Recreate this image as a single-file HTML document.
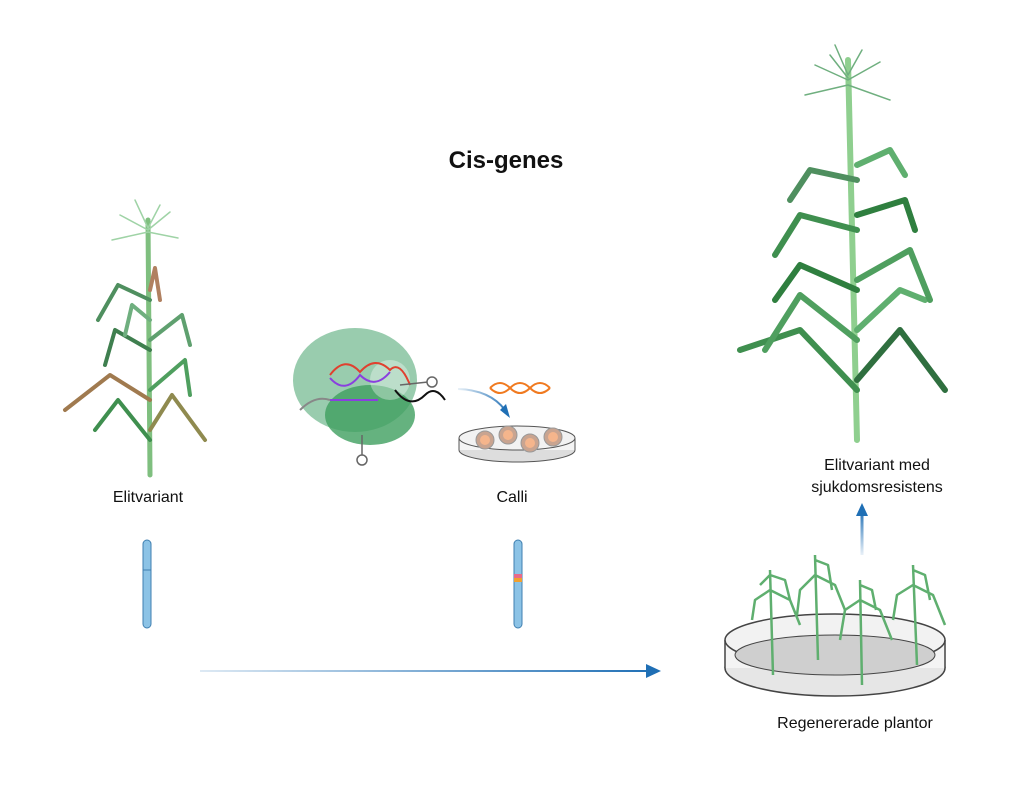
<!DOCTYPE html>
<html><head><meta charset="utf-8"><style>
html,body{margin:0;padding:0;background:#fff}
svg text{font-family:"Liberation Sans",sans-serif;fill:#111}
</style></head><body>
<svg width="1024" height="792" viewBox="0 0 1024 792" xmlns="http://www.w3.org/2000/svg">
<defs>
<linearGradient id="ag" gradientUnits="userSpaceOnUse" x1="200" y1="0" x2="655" y2="0"><stop offset="0" stop-color="#1f6fb5" stop-opacity="0.15"/><stop offset="1" stop-color="#1f6fb5"/></linearGradient>
<linearGradient id="ag3" gradientUnits="userSpaceOnUse" x1="458" y1="0" x2="510" y2="0"><stop offset="0" stop-color="#1f6fb5" stop-opacity="0.1"/><stop offset="1" stop-color="#1f6fb5"/></linearGradient>
<linearGradient id="ag2" gradientUnits="userSpaceOnUse" x1="0" y1="555" x2="0" y2="510"><stop offset="0" stop-color="#1f6fb5" stop-opacity="0.1"/><stop offset="1" stop-color="#1f6fb5"/></linearGradient>
</defs>
<text x="506" y="168" font-size="24" font-weight="bold" text-anchor="middle">Cis-genes</text>

<!-- left plant -->
<g fill="none" stroke-linecap="round">
<path d="M150 475 L148 220" stroke="#7fbf7f" stroke-width="5"/>
<g stroke="#9fd3a6" stroke-width="1.5"><path d="M148 230 L120 215 M148 230 L170 212 M148 228 L135 200 M148 228 L160 205 M148 232 L112 240 M148 232 L178 238"/></g>
<g stroke-width="4" stroke-linejoin="round">
<path d="M150 440 L118 400 L95 430" stroke="#3f8f4f"/>
<path d="M150 430 L172 395 L205 440" stroke="#8f8a4f"/>
<path d="M150 400 L110 375 L65 410" stroke="#a07a4f"/>
<path d="M150 390 L185 360 L190 395" stroke="#4f9f5f"/>
<path d="M150 350 L115 330 L105 365" stroke="#3f7f4f"/>
<path d="M150 340 L182 315 L190 345" stroke="#5fa06f"/>
<path d="M150 300 L118 285 L98 320" stroke="#4f8f5f"/>
<path d="M150 290 L155 268 L160 300" stroke="#b08060"/>
<path d="M150 320 L132 305 L125 335" stroke="#6faf7f"/>
</g></g>

<!-- right plant -->
<g fill="none" stroke-linecap="round">
<path d="M857 440 L848 60" stroke="#8fcf8f" stroke-width="6"/>
<g stroke="#6faf7f" stroke-width="1.5"><path d="M848 80 L815 65 M848 80 L880 62 M848 75 L835 45 M848 75 L862 50 M848 85 L805 95 M848 85 L890 100 M848 78 L830 55"/></g>
<g stroke-width="6" stroke-linejoin="round">
<path d="M857 390 L800 330 L740 350" stroke="#3f8f4f"/>
<path d="M857 380 L900 330 L945 390" stroke="#2f6f3f"/>
<path d="M857 340 L800 295 L765 350" stroke="#4f9f5f"/>
<path d="M857 330 L900 290 L925 300" stroke="#5faf6f"/>
<path d="M857 290 L800 265 L775 300" stroke="#2f7f3f"/>
<path d="M857 280 L910 250 L930 300" stroke="#4f9f5f"/>
<path d="M857 230 L800 215 L775 255" stroke="#3f8f4f"/>
<path d="M857 215 L905 200 L915 230" stroke="#2f7f3f"/>
<path d="M857 180 L810 170 L790 200" stroke="#4f8f5f"/>
<path d="M857 165 L890 150 L905 175" stroke="#5faf6f"/>
</g></g>

<!-- protein + DNA -->
<ellipse cx="355" cy="380" rx="62" ry="52" fill="#7fbf9a" opacity="0.8"/>
<ellipse cx="370" cy="415" rx="45" ry="30" fill="#3f9f5f" opacity="0.8"/>
<circle cx="390" cy="380" r="20" fill="#fff" opacity="0.35"/>
<path d="M330 375 Q345 355 360 372 Q375 355 390 370 Q400 360 410 385" stroke="#e0402f" stroke-width="2" fill="none"/>
<path d="M330 378 Q345 395 360 375 Q375 390 390 372" stroke="#8a3fdf" stroke-width="2" fill="none"/>
<path d="M330 400 L378 400" stroke="#8a3fdf" stroke-width="2"/>
<path d="M395 390 Q410 410 425 395 Q435 385 445 400" stroke="#111" stroke-width="2" fill="none"/>
<path d="M300 410 Q315 395 330 400" stroke="#888" stroke-width="2" fill="none"/>
<path d="M400 385 L428 382" stroke="#666" stroke-width="1.5"/><circle cx="432" cy="382" r="5" fill="#fff" stroke="#666" stroke-width="1.5"/>
<path d="M362 435 L362 455" stroke="#666" stroke-width="1.5"/><circle cx="362" cy="460" r="5" fill="#fff" stroke="#666" stroke-width="1.5"/>

<!-- arrow + dna + dish -->
<path d="M458 389 Q490 390 505 410" stroke="url(#ag3)" stroke-width="2" fill="none"/>
<path d="M500 410 L510 418 L506 404 Z" fill="#1f6fb5"/>
<path d="M490 388 Q500 378 510 388 Q520 398 530 388 Q540 378 550 388" stroke="#f07a20" stroke-width="2" fill="none"/>
<path d="M490 388 Q500 398 510 388 Q520 378 530 388 Q540 398 550 388" stroke="#f07a20" stroke-width="2" fill="none"/>
<ellipse cx="517" cy="450" rx="58" ry="12" fill="#ddd" stroke="#555"/>
<rect x="459" y="438" width="116" height="12" fill="#f4f4f4"/>
<ellipse cx="517" cy="438" rx="58" ry="12" fill="#f2f2f2" stroke="#555"/>
<path d="M459 438 V450 M575 438 V450" stroke="#555"/>
<g fill="#c9a490" stroke="#999"><circle cx="485" cy="440" r="9"/><circle cx="508" cy="435" r="9"/><circle cx="530" cy="443" r="9"/><circle cx="553" cy="437" r="9"/></g>
<g fill="#f5b58c"><circle cx="485" cy="440" r="5"/><circle cx="508" cy="435" r="5"/><circle cx="530" cy="443" r="5"/><circle cx="553" cy="437" r="5"/></g>

<text x="148" y="502" font-size="16" text-anchor="middle">Elitvariant</text>
<text x="512" y="502" font-size="16" text-anchor="middle">Calli</text>
<text x="877" y="470" font-size="16" text-anchor="middle">Elitvariant med</text>
<text x="877" y="492" font-size="16" text-anchor="middle">sjukdomsresistens</text>
<text x="855" y="728" font-size="16" text-anchor="middle">Regenererade plantor</text>

<!-- chromosomes -->
<rect x="143" y="540" width="8" height="88" rx="4" fill="#8cc3e6" stroke="#3f7fb0"/>
<path d="M143 570 H151" stroke="#3f7fb0"/>
<rect x="514" y="540" width="8" height="88" rx="4" fill="#8cc3e6" stroke="#3f7fb0"/>
<rect x="514" y="574" width="8" height="4" fill="#e86a8a"/><rect x="514" y="578" width="8" height="4" fill="#f0a030"/>

<!-- arrows -->
<path d="M200 671 L650 671" stroke="url(#ag)" stroke-width="2"/>
<path d="M646 664 L661 671 L646 678 Z" fill="#1f6fb5"/>
<path d="M862 555 L862 515" stroke="url(#ag2)" stroke-width="3"/>
<path d="M856 516 L862 503 L868 516 Z" fill="#1f6fb5"/>

<!-- dish with plants -->
<ellipse cx="835" cy="668" rx="110" ry="28" fill="#e6e6e6" stroke="#444" stroke-width="1.5"/>
<rect x="725" y="640" width="220" height="28" fill="#f4f4f4"/>
<path d="M725 640 V668 M945 640 V668" stroke="#444" stroke-width="1.5"/>
<ellipse cx="835" cy="640" rx="110" ry="26" fill="#f2f2f2" stroke="#444" stroke-width="1.5"/>
<ellipse cx="835" cy="655" rx="100" ry="20" fill="#cfcfcf" stroke="#444"/>
<g fill="none" stroke="#5faf6f" stroke-width="2.5" stroke-linejoin="round">
<path d="M773 675 L770 570 M770 590 L755 600 L752 620 M770 590 L790 600 L800 625 M770 575 L760 585 M770 575 L785 580 L790 600"/>
<path d="M818 660 L815 555 M815 575 L800 590 L797 615 M815 575 L835 585 L845 610 M815 560 L828 565 L832 590"/>
<path d="M862 685 L860 580 M860 600 L845 610 L840 640 M860 600 L880 610 L892 640 M860 585 L872 590 L876 610"/>
<path d="M917 665 L913 565 M913 585 L897 595 L893 620 M913 585 L933 595 L945 625 M913 570 L925 575 L930 600"/>
</g>
</svg>
</body></html>
